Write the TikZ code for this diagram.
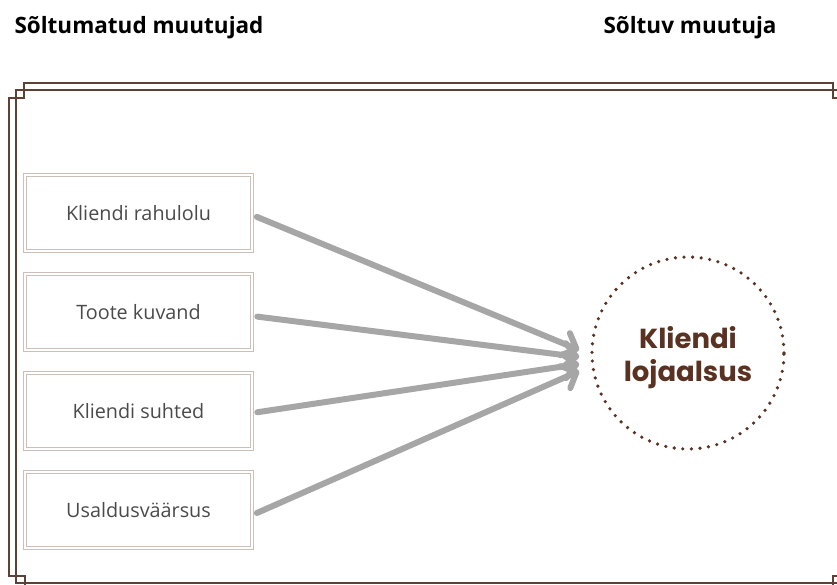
\documentclass[tikz,border=0pt]{standalone}
\usepackage{fontspec}
\setmainfont{Open Sans}
\newfontfamily\circlefont{Poppins}
\usetikzlibrary{positioning,arrows.meta}
\definecolor{framebrown}{HTML}{5E4034}
\definecolor{boxline}{HTML}{CBBFB7}
\definecolor{arrowgray}{HTML}{A6A6A6}
\definecolor{labelgray}{HTML}{4A4A4A}
\definecolor{dotbrown}{HTML}{5A3222}

\begin{document}
\begin{tikzpicture}[x=1pt, y=-1pt, node distance=99pt, font=\fontsize{19.8}{23}\selectfont]
    \tikzset{
        box/.style={rectangle, minimum width=227pt, minimum height=76pt,
        inner sep=0pt, text centered, draw=boxline, line width=0.7pt,
        double=white, double distance=2pt, text=labelgray},
        arrow/.style={line width=6pt, draw=arrowgray, line cap=round, line join=round,
        -{Straight Barb[length=12pt, width=24pt, round]}, shorten <=5pt},
        heading/.style={anchor=west, font=\fontsize{22.5}{26}\selectfont\bfseries},
        target/.style={circle, minimum size=192pt, draw=dotbrown, line width=3.6pt,
        dash pattern=on 0pt off 8.6pt, line cap=round, text=dotbrown, align=center,
        font=\fontsize{27.5}{32}\selectfont\circlefont\bfseries},
        frame/.style={draw=framebrown, line width=1.5pt}
    }
    \useasboundingbox (0,0) rectangle (837,585);
    \clip (0,0) rectangle (837,585);

    % frame
    \draw [frame] (24,83) -- (833,83) -- (833,98) -- (850,98) -- (850,576)
        -- (833,576) -- (833,600) -- (25,600) -- (25,576) -- (9,576)
        -- (9,98) -- (24,98) -- cycle;
    \draw [frame] (16,90) rectangle (850,583);

    % headings
    \node (indep) [heading] at (11,28) {Sõltumatud muutujad};
    \node (dep) [heading] at (600,28) {Sõltuv muutuja};

    % boxes
    \node (rahulolu) [box] at (138.5,213) {Kliendi rahulolu};
    \node (kuvand) [box, below of=rahulolu] {Toote kuvand};
    \node (suhted) [box, below of=kuvand] {Kliendi suhted};
    \node (usaldus) [box, below of=suhted] {Usaldusväärsus};

    \node (lojaalsus) [target] at (688,353) {\rule{0pt}{32pt}Kliendi\\[1pt]lojaalsus};

    \coordinate (tip1) at ([xshift=-11pt, yshift=3pt]lojaalsus.west);
    \coordinate (tip2) at ([xshift=-11pt, yshift=-4pt]lojaalsus.west);
    \coordinate (tip3) at ([xshift=-11pt, yshift=-11pt]lojaalsus.west);
    \coordinate (tip4) at ([xshift=-11pt, yshift=-18pt]lojaalsus.west);

    \draw [arrow] ([yshift=-2pt]rahulolu.east) -- (tip1);
    \draw [arrow] ([yshift=-4pt]kuvand.east) -- (tip2);
    \draw [arrow] ([yshift=-2pt]suhted.east) -- (tip3);
    \draw [arrow] ([yshift=-5pt]usaldus.east) -- (tip4);
\end{tikzpicture}
\end{document}
